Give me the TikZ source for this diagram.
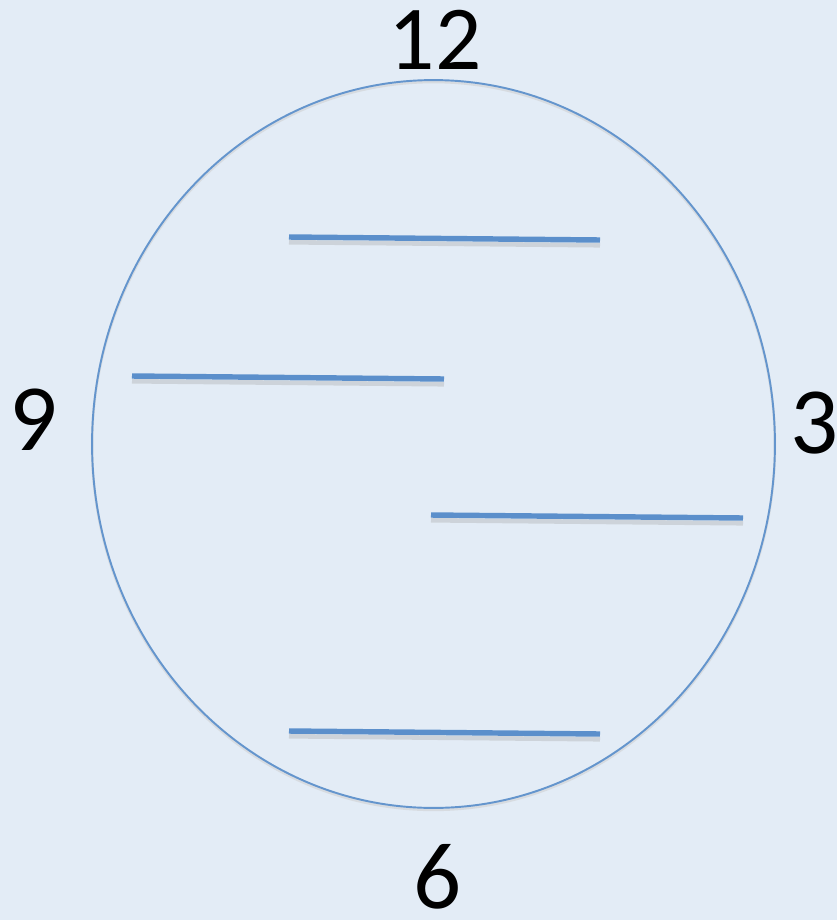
\documentclass[tikz,border=0pt]{standalone}
\usepackage{fontspec}
\setmainfont{Carlito}
\usetikzlibrary{positioning,calc}
\definecolor{clockbg}{RGB}{227,236,246}
\definecolor{handblue}{RGB}{91,143,203}
\definecolor{rimblue}{RGB}{100,149,205}
\tikzset{
  hour/.style={inner sep=0pt,font=\fontsize{54}{60}\selectfont,text=black},
  hand/.style={handblue,line width=3.1pt},
  handshadow/.style={black!35,line width=2.6pt,opacity=0.35},
}

\begin{document}
\begin{tikzpicture}[x=0.02cm,y=-0.02cm]
    % background
    \fill[clockbg] (0,0) rectangle (837,920);
    \useasboundingbox (0,0) rectangle (837,920);
    % clock face
    \coordinate (ctr) at (433.5,444);
    \draw[black!20,line width=1.4pt,opacity=0.5] ($(ctr)+(0,2)$) ellipse [x radius=6.83cm,y radius=7.28cm];
    \draw[rimblue,line width=1.1pt] (ctr) ellipse [x radius=6.83cm,y radius=7.28cm];
    % hour labels
    \node[hour,font=\fontsize{52}{58}\selectfont] (h12) at (435,39.5) {12};
    \node[hour] (h9) at (34,420) {9};
    \node[hour] (h3) at (815,423) {3};
    \node[hour] (h6) at (437.5,877) {6};
    % hands
    \coordinate (a1) at (289,237); \coordinate (b1) at (600,240);
    \coordinate (a2) at (132,376); \coordinate (b2) at (444,379);
    \coordinate (a3) at (431,515); \coordinate (b3) at (743,518);
    \coordinate (a4) at (289,731); \coordinate (b4) at (600,734);
    \foreach \i in {1,...,4}{
      \draw[handshadow] ([yshift=-3pt]a\i) -- ([yshift=-3pt]b\i);
      \draw[hand] (a\i) -- (b\i);
    }
\end{tikzpicture}
\end{document}
